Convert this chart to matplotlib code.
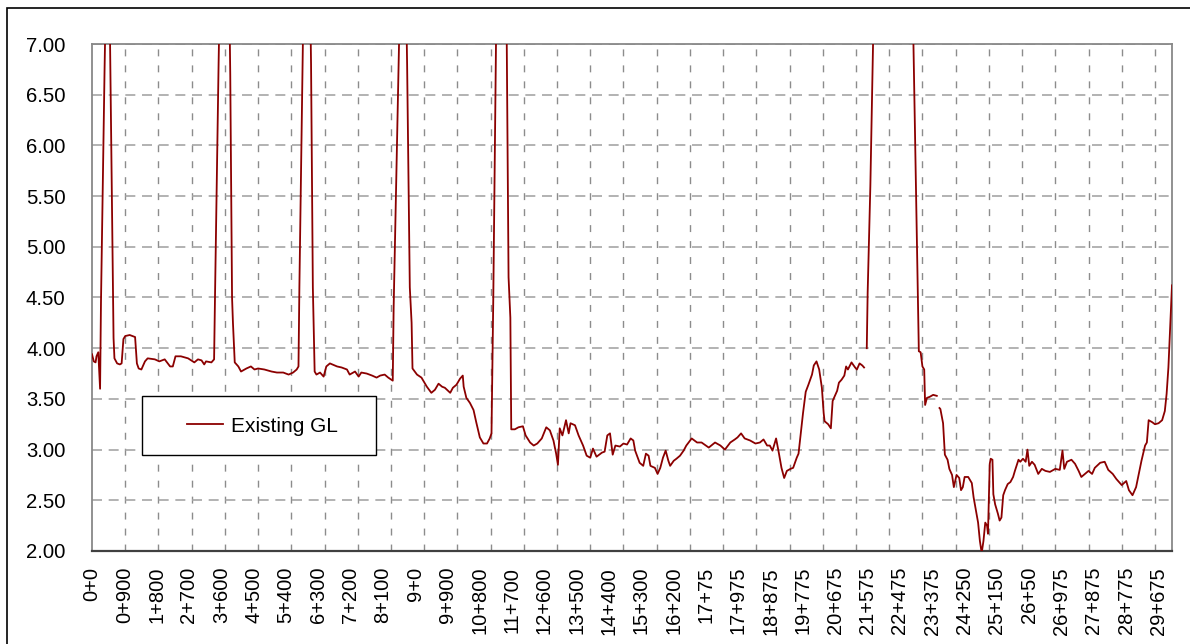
import numpy as np
import matplotlib
matplotlib.use("Agg")
import matplotlib.pyplot as plt
from matplotlib.patches import Rectangle
from matplotlib.ticker import FormatStrFormatter

plt.rcParams['font.family'] = ['Liberation Sans', 'DejaVu Sans']

# category axis: one reading every point, labels every 36 points, grid every 37
n_points = 1204
label_step = 36
grid_step = 37

chainage_labels = ["0+0", "0+900", "1+800", "2+700", "3+600", "4+500", "5+400",
                   "6+300", "7+200", "8+100", "9+0", "9+900", "10+800", "11+700",
                   "12+600", "13+500", "14+400", "15+300", "16+200", "17+75",
                   "17+975", "18+875", "19+775", "20+675", "21+575", "22+475",
                   "23+375", "24+250", "25+150", "26+50", "26+975", "27+875",
                   "28+775", "29+675"]

# (point index, existing ground level), nan = missing data
station_idx = [
    0, 2, 4, 5, 7, 9, 10, 14, 18, 20, 24, 25, 28, 31, 33, 35, 37, 42, 48, 50,
    52, 55, 59, 62, 70, 75, 81, 87, 90, 93, 99, 107, 114, 118, 122, 125, 127, 133, 136, 137,
    141, 145, 151, 154, 156, 157, 159, 163, 166, 172, 177, 181, 185, 192, 200, 206, 213, 219, 224, 228,
    230, 231, 235, 238, 241, 244, 246, 247, 248, 250, 254, 258, 261, 265, 273, 278, 284, 287, 293, 297,
    300, 306, 312, 317, 321, 326, 330, 335, 336, 342, 345, 348, 351, 354, 356, 357, 362, 367, 373, 378,
    382, 386, 390, 393, 399, 402, 406, 410, 413, 414, 417, 421, 425, 428, 432, 436, 440, 443, 445, 447,
    450, 453, 459, 462, 464, 466, 467, 471, 475, 480, 483, 488, 492, 496, 501, 506, 510, 514, 517, 519,
    521, 524, 528, 531, 533, 538, 542, 547, 551, 555, 558, 562, 568, 571, 574, 577, 580, 583, 588, 592,
    596, 600, 603, 605, 610, 614, 617, 620, 622, 627, 630, 633, 636, 639, 642, 644, 648, 651, 655, 659,
    662, 668, 674, 679, 687, 694, 700, 705, 711, 716, 719, 723, 727, 733, 739, 744, 748, 752, 755, 758,
    762, 765, 768, 771, 774, 778, 781, 785, 787, 789, 792, 795, 798, 802, 804, 807, 810, 813, 815, 816,
    820, 823, 825, 828, 830, 832, 835, 838, 840, 842, 846, 850, 852, 855, 858, 860, 862, 863, 864, 867,
    870, 874, 911, 915, 920, 921, 923, 925, 927, 928, 930, 933, 937, 941, 943, 944, 945, 948, 950, 953,
    955, 958, 960, 963, 966, 968, 970, 972, 976, 980, 982, 985, 987, 989, 991, 993, 995, 997, 998, 1000,
    1001, 1003, 1004, 1006, 1009, 1011, 1013, 1015, 1017, 1020, 1023, 1026, 1028, 1032, 1034, 1037, 1040, 1042, 1044, 1047,
    1050, 1054, 1058, 1062, 1067, 1073, 1078, 1081, 1083, 1086, 1091, 1095, 1099, 1102, 1106, 1110, 1114, 1117, 1123, 1128,
    1132, 1137, 1141, 1147, 1152, 1155, 1159, 1163, 1166, 1169, 1173, 1175, 1177, 1181, 1184, 1188, 1192, 1193, 1195, 1197,
    1199, 1201, 1203,
]
gl_values = [
    3.94, 3.87, 3.86, 3.92, 3.96, 3.60, 4.45, 6.75, 8.80, 7.10, 4.10, 3.90, 3.85, 3.84, 3.85, 4.09, 4.12, 4.13, 4.11, 3.85,
    3.80, 3.79, 3.87, 3.90, 3.89, 3.87, 3.89, 3.82, 3.82, 3.92, 3.92, 3.90, 3.86, 3.89, 3.88, 3.84, 3.87, 3.86, 3.89, 4.50,
    6.80, 8.80, 8.80, 6.70, 4.50, 4.25, 3.86, 3.82, 3.77, 3.80, 3.82, 3.79, 3.80, 3.79, 3.77, 3.76, 3.76, 3.74, 3.76, 3.79,
    3.82, 4.60, 7.10, 8.80, 8.80, 6.80, 4.60, 4.20, 3.77, 3.74, 3.76, 3.72, 3.82, 3.85, 3.82, 3.81, 3.79, 3.74, 3.77, 3.72,
    3.76, 3.75, 3.73, 3.71, 3.73, 3.74, 3.71, 3.68, 4.40, 7.00, 8.50, 8.50, 6.80, 4.60, 4.25, 3.80, 3.74, 3.71, 3.62, 3.56,
    3.59, 3.65, 3.62, 3.61, 3.56, 3.61, 3.64, 3.70, 3.73, 3.62, 3.51, 3.46, 3.39, 3.27, 3.12, 3.06, 3.06, 3.11, 3.16, 4.50,
    7.00, 9.00, 9.00, 7.00, 4.70, 4.30, 3.20, 3.20, 3.22, 3.23, 3.14, 3.07, 3.04, 3.06, 3.11, 3.22, 3.19, 3.09, 2.96, 2.85,
    3.21, 3.14, 3.29, 3.16, 3.26, 3.24, 3.14, 3.04, 2.94, 2.92, 3.01, 2.93, 2.97, 2.98, 3.14, 3.16, 2.95, 3.04, 3.03, 3.06,
    3.05, 3.11, 3.09, 2.99, 2.87, 2.84, 2.96, 2.94, 2.84, 2.82, 2.76, 2.82, 2.92, 2.99, 2.89, 2.84, 2.89, 2.91, 2.94, 2.99,
    3.04, 3.11, 3.07, 3.07, 3.02, 3.07, 3.04, 3.00, 3.07, 3.10, 3.12, 3.16, 3.11, 3.09, 3.06, 3.07, 3.10, 3.04, 3.04, 2.99,
    3.11, 2.97, 2.82, 2.72, 2.79, 2.81, 2.82, 2.92, 2.96, 3.12, 3.36, 3.57, 3.64, 3.74, 3.83, 3.87, 3.79, 3.61, 3.36, 3.28,
    3.25, 3.21, 3.48, 3.54, 3.58, 3.66, 3.69, 3.73, 3.82, 3.79, 3.86, 3.81, 3.79, 3.85, 3.83, 3.81, np.nan, 4.00, 4.55, 5.60,
    7.00, 8.60, 8.60, 7.00, 4.50, 3.97, 3.96, 3.82, 3.79, 3.44, 3.51, 3.52, 3.54, 3.53, np.nan, 3.41, 3.40, 3.26, 2.95, 2.90,
    2.81, 2.75, 2.63, 2.75, 2.72, 2.60, 2.63, 2.73, 2.73, 2.67, 2.53, 2.38, 2.28, 2.10, 1.98, 2.10, 2.28, 2.25, 2.17, 2.86,
    2.91, 2.90, 2.56, 2.46, 2.37, 2.30, 2.33, 2.55, 2.60, 2.66, 2.68, 2.73, 2.79, 2.90, 2.88, 2.91, 2.88, 3.00, 2.84, 2.88,
    2.85, 2.76, 2.81, 2.79, 2.78, 2.81, 2.80, 2.99, 2.81, 2.88, 2.90, 2.86, 2.79, 2.73, 2.76, 2.79, 2.76, 2.82, 2.87, 2.88,
    2.80, 2.76, 2.71, 2.65, 2.69, 2.60, 2.55, 2.63, 2.76, 2.89, 3.04, 3.07, 3.29, 3.27, 3.25, 3.26, 3.29, 3.32, 3.38, 3.55,
    3.81, 4.21, 4.62,
]

W, H = 1190, 644
fig = plt.figure(figsize=(W / 100, H / 100), dpi=100)
ax = fig.add_axes([92 / W, (H - 551) / H, 1080 / W, 507 / H])

ax.plot(station_idx, gl_values, color='#8B0000', lw=1.3, label='Existing GL', zorder=3)

ax.set_xlim(0, n_points - 1)
ax.set_ylim(2, 7)
ax.set_yticks(np.arange(2, 7.01, 0.5))
ax.yaxis.set_major_formatter(FormatStrFormatter('%.2f'))
ax.set_xticks(range(0, n_points, label_step))
ax.set_xticklabels(chainage_labels, rotation=90)
ax.set_xticks(range(grid_step, n_points, grid_step), minor=True)

ax.tick_params(which='both', length=0)
ax.tick_params(axis='y', pad=19, labelsize=14.6)
ax.tick_params(axis='x', pad=11.5, labelsize=14.5)

ax.xaxis.grid(False, which='major')
ax.xaxis.grid(True, which='minor', color='#8c8c8c', lw=1.0, ls=(0, (5, 6.5)))
ax.yaxis.grid(True, which='major', color='#a6a6a6', lw=1.2, ls=(0, (6, 4)))
ax.set_axisbelow(True)

for side in ['left', 'top', 'right']:
    ax.spines[side].set_color('#888888')
    ax.spines[side].set_linewidth(1.3)
ax.spines['bottom'].set_color('#404040')
ax.spines['bottom'].set_linewidth(1.6)

# legend box
ax.add_patch(Rectangle((142 / W, (H - 455) / H), 234 / W, 59 / H, transform=fig.transFigure,
                       facecolor='white', edgecolor='black', lw=1.0, zorder=4, clip_on=False))
ax.legend(loc='center left', bbox_to_anchor=(187 / W, (H - 426) / H), bbox_transform=fig.transFigure,
          frameon=False, borderpad=0, borderaxespad=0, handlelength=1.73, handletextpad=0.38,
          fontsize=15)

# outer chart border
fig.add_artist(Rectangle((7 / W, -0.05), 1.1, (H - 8) / H + 0.05, transform=fig.transFigure,
                         fill=False, edgecolor='black', lw=1.2))

fig.savefig('out.png', dpi=100)
